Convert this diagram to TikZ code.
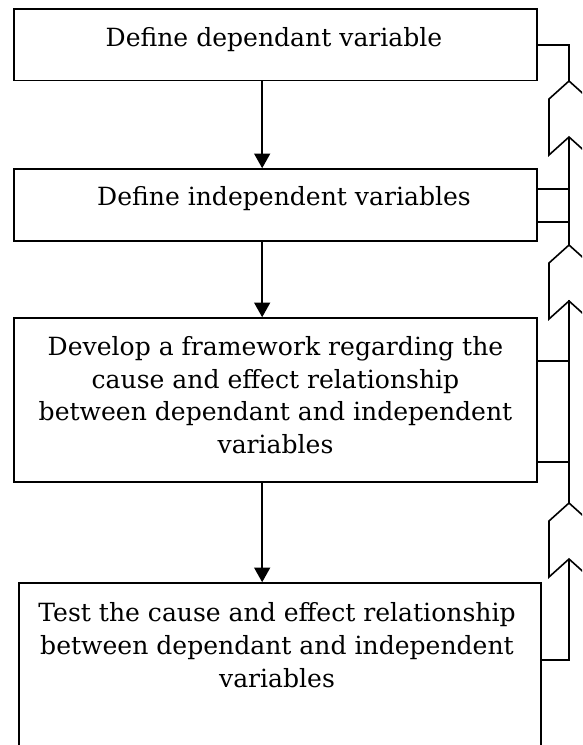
\documentclass[tikz,border=0pt]{standalone}
\usepackage{fontspec}
\setmainfont{DejaVu Serif}
\usetikzlibrary{arrows.meta,calc}

\begin{document}
\begin{tikzpicture}[x=0.75pt, y=-0.75pt, line width=1.2pt,
                    >={Triangle[length=11pt,width=12pt]},
                    box/.style={draw, rectangle, inner sep=0pt, fill=none},
                    txt/.style={align=center, inner sep=0pt, text=black,
                                font=\fontsize{18.8}{24.5}\selectfont}]
	\clip (0,0) rectangle (582,745);

	\node[box, minimum width=392.25pt, minimum height=53.6pt] (b1) at (275.5, 44.75) {};
	\node[box, minimum width=392.25pt, minimum height=54pt] (b2) at (275.5, 205) {};
	\node[box, minimum width=392.25pt, minimum height=123pt] (b3) at (275.5, 400) {};
	\node[box, minimum width=391.5pt, minimum height=132.75pt] (b4) at (280, 671.5) {};

	\node[txt, anchor=base] (t1) at (274, 47) {Define dependant variable};
	\node[txt, anchor=base] (t2) at (284, 205) {Define independent variables};
	\node[txt] (t3) at (275.5, 395) {Develop a framework regarding the\\
		cause and effect relationship\\ between dependant and independent\\ variables};
	\node[txt] (t4) at (277, 645) {Test the cause and effect relationship\\
		between dependant and independent\\ variables};

	\path[->] ([xshift=-10pt]b1.south) edge ([xshift=-10pt]b2.north);
	\path[->] ([xshift=-10pt]b2.south) edge ([xshift=-10pt]b3.north);
	\path[->] ([xshift=-10pt]b3.south) edge ([xshift=-10pt]b3.south |- b4.north);

	% feedback side
	\coordinate (c1) at (569, 81);
	\coordinate (c2) at (569, 245);
	\coordinate (c3) at (569, 503);
	\coordinate (n1) at (569, 137);
	\coordinate (n2) at (569, 300);
	\coordinate (n3) at (569, 559);
	\foreach \c in {c1, c2, c3}
		\draw (\c) -- ++(20,18) -- ++(0,56) -- ++(-20,-18) -- ++(-20,18) -- ++(0,-56) -- cycle;

	\coordinate (j1) at (569, 189);
	\coordinate (j2) at (569, 222);
	\coordinate (j3) at (569, 361);
	\coordinate (j4) at (569, 462);
	\coordinate (j5) at (569, 660);

	\draw (b1.east) -| (c1);
	\draw (n1) -- (c2);
	\draw (n2) -- (c3);
	\draw (n3) -- (j5) -- (j5 -| b4.east);
	\draw (j1 -| b2.east) -- (j1);
	\draw (j2 -| b2.east) -- (j2);
	\draw (j3 -| b3.east) -- (j3);
	\draw (j4 -| b3.east) -- (j4);

\end{tikzpicture}
\end{document}
